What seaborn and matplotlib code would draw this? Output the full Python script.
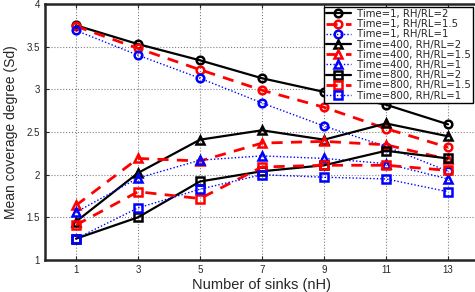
import numpy as np
import pandas as pd
import matplotlib
matplotlib.use('Agg')
import matplotlib.pyplot as plt
import seaborn as sns

sinks = [1, 3, 5, 7, 9, 11, 13]

t1_r2 = [3.75, 3.53, 3.34, 3.13, 2.97, 2.82, 2.59]
t1_r15 = [3.74, 3.48, 3.23, 2.99, 2.79, 2.54, 2.32]
t1_r1 = [3.69, 3.40, 3.13, 2.84, 2.57, 2.33, 2.04]
t400_r2 = [1.45, 2.02, 2.41, 2.52, 2.41, 2.60, 2.45]
t400_r15 = [1.64, 2.19, 2.16, 2.37, 2.39, 2.35, 2.18]
t400_r1 = [1.56, 1.96, 2.17, 2.22, 2.19, 2.13, 1.95]
t800_r2 = [1.25, 1.50, 1.92, 2.04, 2.11, 2.28, 2.19]
t800_r15 = [1.41, 1.80, 1.72, 2.09, 2.11, 2.11, 2.05]
t800_r1 = [1.25, 1.61, 1.83, 2.00, 1.97, 1.95, 1.80]

labels = ['Time=1, RH/RL=2', 'Time=1, RH/RL=1.5', 'Time=1, RH/RL=1',
          'Time=400, RH/RL=2', 'Time=400, RH/RL=1.5', 'Time=400, RH/RL=1',
          'Time=800, RH/RL=2', 'Time=800, RH/RL=1.5', 'Time=800, RH/RL=1']
series = [t1_r2, t1_r15, t1_r1, t400_r2, t400_r15, t400_r1, t800_r2, t800_r15, t800_r1]

# ratio -> (colour, linestyle, linewidth)
styles = [('black', '-', 1.6), ('red', (0, (4, 3)), 2.0), ('blue', (0, (1, 1.5)), 1.0)]
markers = ['o', '^', 's']

sns.set_style('ticks')
plt.rcParams['font.family'] = ['Liberation Sans', 'DejaVu Sans']

fig = plt.figure(figsize=(4.75, 2.92), dpi=100)
ax = fig.add_axes([45 / 475, 32 / 292, 434 / 475, 256 / 292])

for i, (lab, vals) in enumerate(zip(labels, series)):
    col, ls, lw = styles[i % 3]
    mk = markers[i // 3]
    sns.lineplot(x=sinks, y=vals, ax=ax, color=col, linestyle=ls, linewidth=lw,
                 marker=mk, markersize=5.5, markerfacecolor='none',
                 markeredgecolor=col, markeredgewidth=1.8, label=lab)

ax.set_xlim(0, 14)
ax.set_ylim(1, 4)
ax.set_xticks(sinks)
ax.set_yticks([1, 1.5, 2, 2.5, 3, 3.5, 4])
ax.set_yticklabels(['1', '1.5', '2', '2.5', '3', '3.5', '4'])
ax.tick_params(direction='in', labelsize=7, top=True, right=True, length=3)
ax.grid(True, linestyle=':', color='gray', linewidth=0.8)
for sp in ax.spines.values():
    sp.set_linewidth(1.8)
    sp.set_visible(True)

ax.set_xlabel('Number of sinks (nH)', fontsize=10.5, labelpad=2)
ax.set_ylabel('Mean coverage degree (Sd)', fontsize=10, labelpad=6)

leg = ax.legend(loc='upper right', bbox_to_anchor=(428 / 434, 1 - 3 / 256),
                prop={'family': 'DejaVu Sans', 'size': 7.3},
                frameon=True, fancybox=False, edgecolor='black', framealpha=1,
                labelspacing=0.02, handlelength=2.5, handletextpad=0.6,
                borderpad=0.2, borderaxespad=0)
leg.get_frame().set_linewidth(1.0)

fig.savefig('out.png', dpi=100)
